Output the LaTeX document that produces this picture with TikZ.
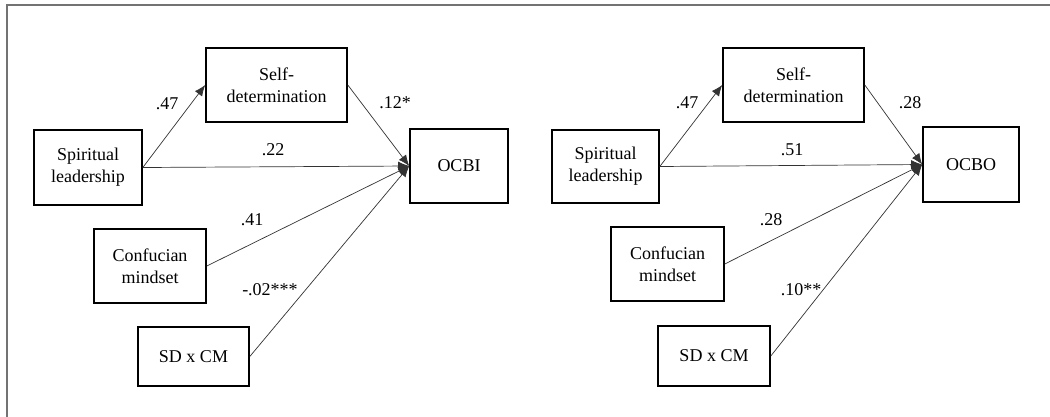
\documentclass[tikz,border=0pt]{standalone}
\usepackage{fontspec}
\setmainfont{Liberation Serif}
\usetikzlibrary{arrows.meta}
\begin{document}
\begin{tikzpicture}[x=1pt,y=-1pt,
  box/.style={draw=black,line width=1.6pt,align=center,inner sep=0pt,
    font=\fontsize{18}{22}\selectfont},
  conn/.style={draw=black!80,line width=0.7pt,-{Latex[length=11pt,width=9pt]}},
  lab/.style={inner sep=0pt,font=\fontsize{18}{20}\selectfont}]
\useasboundingbox (0,0) rectangle (1050,416);
\fill[white] (0,0) rectangle (1050,416);
\draw[gray!90!black,line width=1.6pt] (7,420) -- (7,5) -- (1052,5);
% left panel
\node[box,minimum width=141pt,minimum height=74pt] (sd1) at (276.5,85) {Self-\\determination};
\node[box,minimum width=108pt,minimum height=75pt] (sl1) at (88,167.5) {Spiritual\\leadership};
\node[box,minimum width=98pt,minimum height=74pt] (oc1) at (459,166) {OCBI};
\node[box,minimum width=112pt,minimum height=74pt] (cm1) at (150,266) {Confucian\\mindset};
\node[box,minimum width=111pt,minimum height=59pt] (ix1) at (193.5,356.5) {SD x CM};
\draw[conn] (sl1.east) -- (sd1.west);
\draw[conn] (sd1.east) -- (oc1.west);
\draw[conn] (sl1.east) -- (oc1.west);
\draw[conn] (cm1.east) -- (oc1.west);
\draw[conn] (ix1.east) -- (oc1.west);
\node[lab] (a1) at (167,104) {.47};
\node[lab] (b1) at (395,103) {.12*};
\node[lab] (c1) at (273,150) {.22};
\node[lab] (d1) at (252,220) {.41};
\node[lab] (e1) at (270,290) {-.02***};
% right panel
\node[box,minimum width=141pt,minimum height=74pt] (sd2) at (793.5,85) {Self-\\determination};
\node[box,minimum width=107pt,minimum height=73pt] (sl2) at (605.5,166.5) {Spiritual\\leadership};
\node[box,minimum width=96pt,minimum height=75pt] (oc2) at (971,164.5) {OCBO};
\node[box,minimum width=113pt,minimum height=74pt] (cm2) at (667.5,264) {Confucian\\mindset};
\node[box,minimum width=112pt,minimum height=60pt] (ix2) at (714,356) {SD x CM};
\draw[conn] (sl2.east) -- (sd2.west);
\draw[conn] (sd2.east) -- (oc2.west);
\draw[conn] (sl2.east) -- (oc2.west);
\draw[conn] (cm2.east) -- (oc2.west);
\draw[conn] (ix2.east) -- (oc2.west);
\node[lab] (a2) at (687,103) {.47};
\node[lab] (b2) at (910,103) {.28};
\node[lab] (c2) at (792,150) {.51};
\node[lab] (d2) at (771,220) {.28};
\node[lab] (e2) at (801,290) {.10**};
\end{tikzpicture}
\end{document}
